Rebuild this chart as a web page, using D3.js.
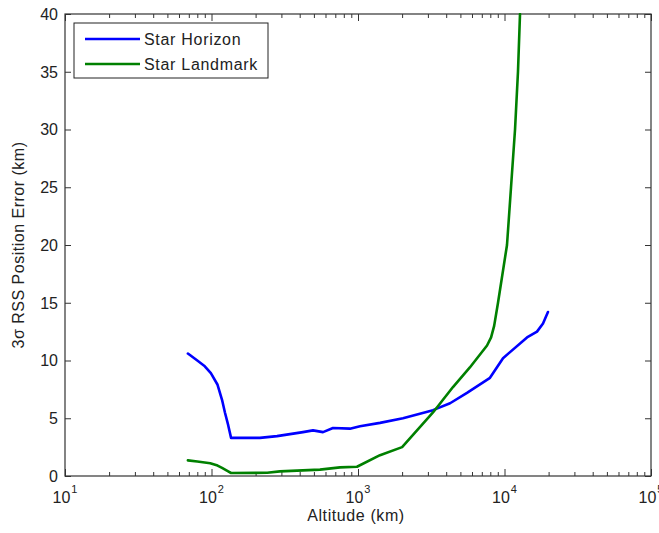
<!DOCTYPE html>
<html><head><meta charset="utf-8">
<script src="https://cdn.jsdelivr.net/npm/d3@7"></script>
<style>
body{margin:0;background:#fff;}
text{font-family:"Liberation Sans",Arial,sans-serif;fill:#222;}
</style></head>
<body><svg id="c" width="659" height="533"></svg>
<script>
const seriesNames = ["Star Horizon", "Star Landmark"];
const seriesColors = ["#0000ff", "#008000"];
const horizonAlt = [69, 80, 90, 99, 110, 118, 123.5, 130, 136, 214, 280, 421, 493, 577, 675, 881, 1032, 1413, 2028, 3250, 4250, 5546, 7960, 9770, 14245, 16670, 18320, 19800];
const horizonErr = [10.6, 10.0, 9.5, 8.9, 7.9, 6.6, 5.5, 4.4, 3.3, 3.3, 3.45, 3.8, 3.95, 3.8, 4.15, 4.1, 4.3, 4.6, 5.0, 5.7, 6.3, 7.2, 8.5, 10.2, 12.0, 12.5, 13.2, 14.2];
const landmarkAlt = [69, 80, 98, 110, 118, 130, 136, 240, 293, 550, 754, 984, 1413, 2000, 3250, 4450, 5800, 7600, 8100, 8500, 9030, 10400, 11080, 11800, 12360, 12760];
const landmarkErr = [1.35, 1.25, 1.1, 0.9, 0.7, 0.4, 0.26, 0.28, 0.4, 0.55, 0.75, 0.8, 1.8, 2.5, 5.5, 7.7, 9.4, 11.3, 12.0, 13.0, 15.0, 20.0, 25.0, 30.0, 35.0, 40.0];
const xDomain = [10, 100000];
const yDomain = [0, 40];
const yTicks = [0, 5, 10, 15, 20, 25, 30, 35, 40];
const xMajorExp = [1, 2, 3, 4, 5];
const xLabel = "Altitude (km)";
const yLabel = "3σ RSS Position Error (km)";

const L = 65, R = 651, T = 14, B = 476;
const svg = d3.select("#c");
const x = d3.scaleLog().domain(xDomain).range([L, R]);
const y = d3.scaleLinear().domain(yDomain).range([B, T]);

const majors = xMajorExp.map(e => Math.pow(10, e));
const minors = [];
for (let e = 1; e < 5; e++) for (let k = 2; k <= 9; k++) minors.push(k * Math.pow(10, e));

const axisColor = "#333";
function styleAxis(g){ g.select(".domain").remove(); g.selectAll("line").attr("stroke", axisColor); g.selectAll("text").remove(); }
svg.append("g").attr("transform", `translate(0,${B})`).call(d3.axisBottom(x).tickValues(majors).tickSize(-7)).call(styleAxis);
svg.append("g").attr("transform", `translate(0,${B})`).call(d3.axisBottom(x).tickValues(minors).tickSize(-4)).call(styleAxis);
svg.append("g").attr("transform", `translate(0,${T})`).call(d3.axisTop(x).tickValues(majors).tickSize(-7)).call(styleAxis);
svg.append("g").attr("transform", `translate(0,${T})`).call(d3.axisTop(x).tickValues(minors).tickSize(-4)).call(styleAxis);
svg.append("g").attr("transform", `translate(${L},0)`).call(d3.axisLeft(y).tickValues(yTicks).tickSize(-6)).call(styleAxis);
svg.append("g").attr("transform", `translate(${R},0)`).call(d3.axisRight(y).tickValues(yTicks).tickSize(-6)).call(styleAxis);

svg.append("rect").attr("x", L).attr("y", T).attr("width", R - L).attr("height", B - T)
  .attr("fill", "none").attr("stroke", axisColor).attr("stroke-width", 1.2);

svg.append("g").selectAll("text").data(yTicks).join("text")
  .attr("x", 58).attr("y", d => y(d)).attr("dy", "0.36em").attr("text-anchor", "end")
  .style("font-size", "16px").text(d => d);

const xl = svg.append("g").selectAll("text").data(xMajorExp).join("text")
  .attr("x", d => x(Math.pow(10, d))).attr("y", 503).attr("text-anchor", "middle")
  .style("font-size", "16px");
xl.append("tspan").text("10");
xl.append("tspan").attr("dy", -10).attr("dx", 1).style("font-size", "11px").text(d => d);

svg.append("text").attr("x", 356).attr("y", 521).attr("text-anchor", "middle")
  .style("font-size", "16px").style("letter-spacing", "0.6px").text(xLabel);
svg.append("text").attr("transform", "translate(24,245) rotate(-90)").attr("text-anchor", "middle")
  .style("font-size", "16px").style("letter-spacing", "0.5px").text(yLabel);

svg.append("clipPath").attr("id", "clip").append("rect").attr("x", L).attr("y", T - 1).attr("width", R - L).attr("height", B - T + 2);
const line = d3.line().x(d => x(d[0])).y(d => y(d[1]));
const data = [d3.zip(horizonAlt, horizonErr), d3.zip(landmarkAlt, landmarkErr)];
svg.append("g").attr("clip-path", "url(#clip)").selectAll("path").data(data).join("path")
  .attr("d", line).attr("fill", "none").attr("stroke", (d, i) => seriesColors[i])
  .attr("stroke-width", 2.6).attr("stroke-linejoin", "round").attr("stroke-linecap", "round");

const lg = svg.append("g");
lg.append("rect").attr("x", 74).attr("y", 23).attr("width", 194).attr("height", 55)
  .attr("fill", "#fff").attr("stroke", "#222").attr("stroke-width", 1);
seriesNames.forEach((n, i) => {
  const yy = 39 + i * 25;
  lg.append("line").attr("x1", 85).attr("x2", 140).attr("y1", yy).attr("y2", yy)
    .attr("stroke", seriesColors[i]).attr("stroke-width", 2.6);
  lg.append("text").attr("x", 144).attr("y", yy).attr("dy", "0.36em")
    .style("font-size", "16px").style("letter-spacing", "0.7px").text(n);
});
</script></body></html>
